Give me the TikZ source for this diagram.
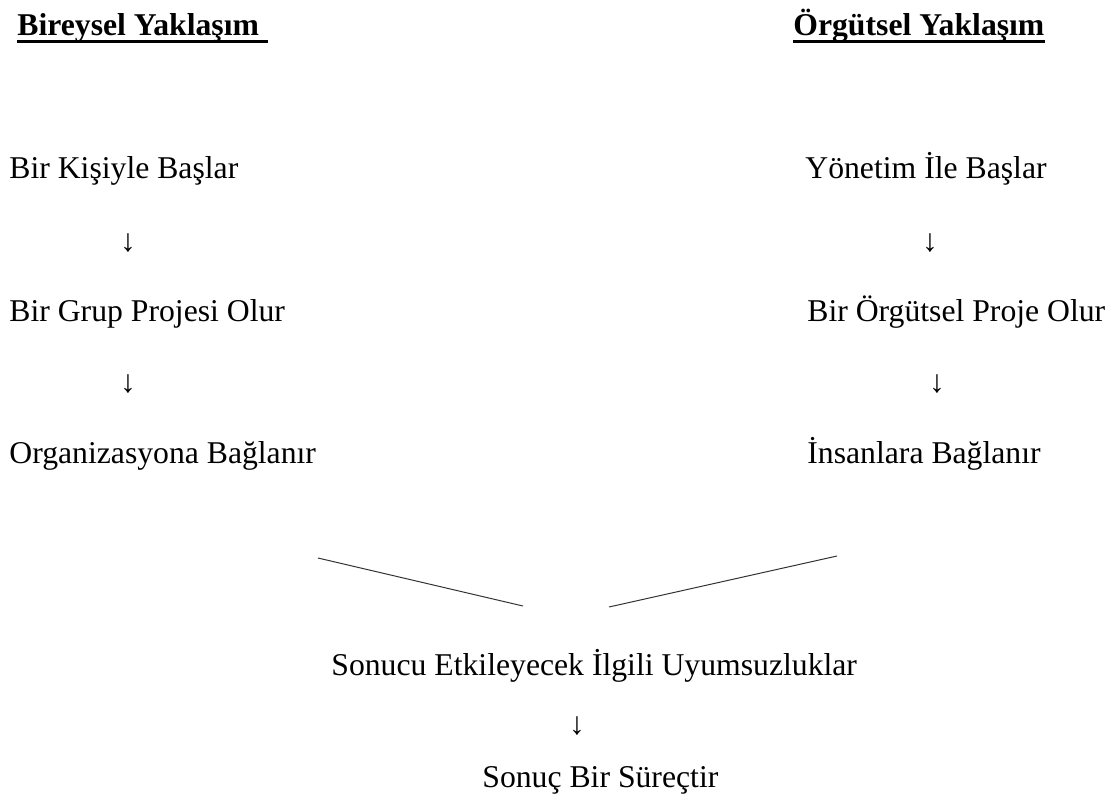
\documentclass[tikz,border=0pt]{standalone}
\usepackage{fontspec}
\setmainfont{Liberation Serif}
\usetikzlibrary{calc}
\tikzset{
  txt/.style={inner sep=0pt, anchor=base west, font=\fontsize{15.85}{19}\selectfont},
  hdr/.style={txt, font=\fontsize{15.85}{19}\selectfont\bfseries},
  arr/.style={inner sep=0pt, anchor=center, font=\fontsize{15.85}{19}\selectfont},
  uline/.style={line width=1.3pt, black},
  vline/.style={line width=0.5pt, black!80},
}
\begin{document}
\begin{tikzpicture}[x=0.5pt, y=-0.5pt]
\useasboundingbox (0,0) rectangle (1115,794);
% headers
\node[hdr] (hl) at (17,35) {Bireysel Yaklaşım};
\node[hdr] (hr) at (793,35) {Örgütsel Yaklaşım};
\draw[uline] ($(hl.base west)+(0,6.5)$) -- ($(hl.base east)+(9,6.5)$);
\draw[uline] ($(hr.base west)+(0,6.5)$) -- ($(hr.base east)+(0,6.5)$);
% left column
\node[txt] (l1) at (9,178) {Bir Kişiyle Başlar};
\node[arr] (la1) at (128,243) {↓};
\node[txt] (l2) at (9,321) {Bir Grup Projesi Olur};
\node[arr] (la2) at (128,384) {↓};
\node[txt] (l3) at (9,463) {Organizasyona Bağlanır};
% right column
\node[txt] (r1) at (805,178) {Yönetim İle Başlar};
\node[arr] (ra1) at (930,243) {↓};
\node[txt] (r2) at (807,321) {Bir Örgütsel Proje Olur};
\node[arr] (ra2) at (937,384) {↓};
\node[txt] (r3) at (807,463) {İnsanlara Bağlanır};
% converging lines
\coordinate (vl1) at (318,558);
\coordinate (vl2) at (523,606);
\coordinate (vr1) at (609,607);
\coordinate (vr2) at (837,556);
\draw[vline] (vl1) -- (vl2);
\draw[vline] (vr1) -- (vr2);
% bottom
\node[txt] (b1) at (331,675) {Sonucu Etkileyecek İlgili Uyumsuzluklar};
\node[arr] (ba) at (577,726) {↓};
\node[txt] (b2) at (482,787) {Sonuç Bir Süreçtir};
\end{tikzpicture}
\end{document}
